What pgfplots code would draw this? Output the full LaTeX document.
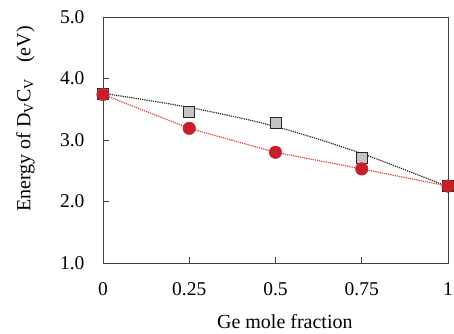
\documentclass[border=0pt]{standalone}
\usepackage{pgfplots}
\pgfplotsset{compat=1.18}
\usepackage{fontspec}
\setmainfont{Liberation Serif}
\definecolor{myred}{HTML}{C8202A}
\definecolor{lred}{HTML}{E03A3A}
\definecolor{sqgray}{HTML}{C4C4C4}
\begin{document}
\begin{tikzpicture}
\useasboundingbox (0,0) rectangle (454pt,333pt);
\begin{axis}[
  at={(103pt,70pt)}, anchor=south west,
  scale only axis, width=345pt, height=246pt,
  xmin=0, xmax=1, ymin=1, ymax=5,
  xtick={0,0.25,0.5,0.75,1},
  xticklabels={0,0.25,0.5,0.75,1},
  ytick={1,2,3,4,5},
  yticklabel style={/pgf/number format/fixed,/pgf/number format/fixed zerofill,/pgf/number format/precision=1},
  /pgf/number format/assume math mode=true,
  tick align=inside, tick pos=left,
  major tick length=6pt,
  axis line style={black!75, line width=0.9pt},
  every tick/.style={black!75, line width=0.9pt},
  ticklabel style={font=\fontsize{19.5}{22}\selectfont},
  xticklabel style={yshift=-16pt},
  yticklabel style={xshift=-15pt},
  label style={font=\fontsize{20}{23}\selectfont},
  xlabel={Ge mole fraction},
  xlabel style={at={(axis description cs:0.527,-0.24)}, anchor=center},
  ylabel={Energy of D\textsubscript{V}C\textsubscript{V}\hspace{0.8em}(eV)},
  ylabel style={at={(axis description cs:-0.225,0.585)}, anchor=center},
  clip=false,
]
% gray squares
\addplot[only marks, mark=square*, mark size=5.5pt, mark options={fill=sqgray, draw=black!85, line width=1pt}]
  coordinates {(0,3.74) (0.25,3.46) (0.5,3.27) (0.75,2.71) (1,2.25)};
% black dotted trend
\addplot[black!85, line width=1.2pt, densely dotted, smooth, no marks]
  coordinates {(0,3.76) (0.25,3.53) (0.5,3.22) (0.75,2.78) (1,2.24)};
% red dotted line
\addplot[lred, line width=1.2pt, densely dotted, no marks]
  coordinates {(0,3.74) (0.25,3.19) (0.5,2.80) (0.75,2.53) (1,2.25)};
% red circles
\addplot[only marks, mark=*, mark size=6.3pt, mark options={fill=myred, draw=myred}]
  coordinates {(0,3.74) (0.25,3.19) (0.5,2.80) (0.75,2.53) (1,2.25)};
\end{axis}
\end{tikzpicture}
\end{document}
